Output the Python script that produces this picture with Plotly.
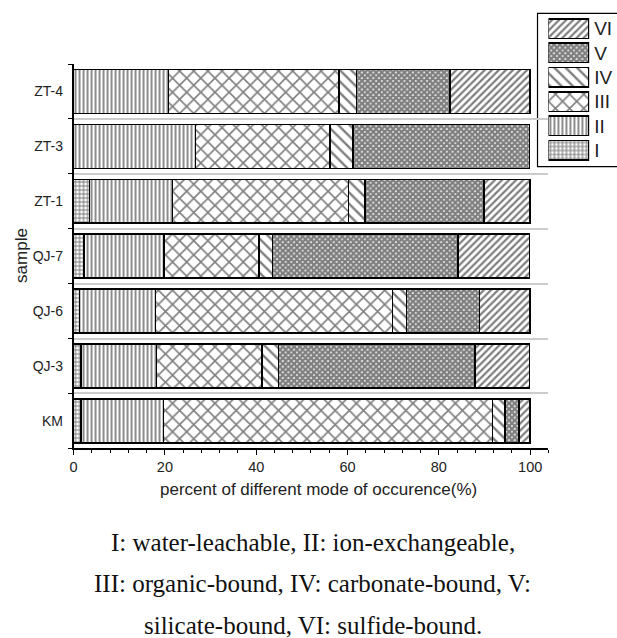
import plotly.graph_objects as go

# Mode-of-occurrence fractions (%) per sample, stacked from I to VI
samples = ["KM", "QJ-3", "QJ-6", "QJ-7", "ZT-1", "ZT-3", "ZT-4"]
mode_I = [1.6, 1.6, 1.3, 2.3, 3.5, 0.0, 0.0]
mode_II = [18.1, 16.6, 16.6, 17.5, 18.2, 26.7, 20.8]
mode_III = [72.1, 23.1, 52.0, 20.8, 38.5, 29.5, 37.3]
mode_IV = [2.7, 3.6, 3.0, 3.0, 3.6, 5.0, 3.9]
mode_V = [3.0, 43.0, 16.0, 40.6, 26.1, 38.6, 20.4]
mode_VI = [2.5, 11.9, 11.1, 15.6, 10.1, 0.0, 17.6]

mode_names = ["I", "II", "III", "IV", "V", "VI"]
mode_values = [mode_I, mode_II, mode_III, mode_IV, mode_V, mode_VI]
legend_swatch = [1, 1, 1, 1, 1, 1]

x_ticks = [0, 20, 40, 60, 80, 100]
caption_lines = [
    "I: water-leachable, II: ion-exchangeable,",
    "III: organic-bound, IV: carbonate-bound, V:",
    "silicate-bound, VI: sulfide-bound.",
]

# hatch style for each mode
patterns = {
    "I": dict(shape="+", size=4, solidity=0.5),
    "II": dict(shape="|", size=4, solidity=0.45),
    "III": dict(shape="x", size=10, solidity=0.3),
    "IV": dict(shape="\\", size=8, solidity=0.3),
    "V": dict(shape="x", size=4, solidity=0.85),
    "VI": dict(shape="/", size=5, solidity=0.45),
}

W, H = 617, 638
SANS = "Liberation Sans, Arial, sans-serif"
SERIF = "Liberation Serif, Times New Roman, serif"


def px_x(p):
    return p / W


def px_y(p):
    return 1 - p / H


fig = go.Figure()

for name, vals in zip(mode_names, mode_values):
    pat = patterns[name]
    fig.add_trace(go.Bar(
        x=vals, y=samples, orientation="h", name=name, width=0.8,
        marker=dict(
            color="white",
            line=dict(color="black", width=1.5),
            pattern=dict(fgcolor="black", bgcolor="white", fillmode="overlay", **pat),
        ),
        showlegend=False, xaxis="x", yaxis="y",
    ))

# legend drawn as a small inset of patterned swatches
for name, val in zip(mode_names, legend_swatch):
    pat = patterns[name]
    fig.add_trace(go.Bar(
        x=[val], y=[name], orientation="h", width=0.8,
        marker=dict(
            color="white",
            line=dict(color="black", width=1.5),
            pattern=dict(fgcolor="black", bgcolor="white", fillmode="overlay", **pat),
        ),
        showlegend=False, xaxis="x2", yaxis="y2", hoverinfo="skip",
    ))

fig.update_layout(
    width=W, height=H,
    margin=dict(l=0, r=0, t=0, b=0),
    paper_bgcolor="white", plot_bgcolor="white",
    barmode="stack", bargap=0.2,
    font=dict(family=SANS, color="#222", size=14),
    xaxis=dict(
        domain=[px_x(70), px_x(548)], anchor="y",
        range=[0, 104], tickvals=x_ticks, ticks="outside", ticklen=5,
        tickwidth=1.2, tickcolor="black",
        minor=dict(dtick=4, tick0=0, ticks="outside", ticklen=3, tickwidth=1.2,
                   tickcolor="black", showgrid=False),
        showline=True, linecolor="black", linewidth=1.5,
        showgrid=False, zeroline=False,
        tickfont=dict(size=14.5, color="#222"),
    ),
    yaxis=dict(
        domain=[px_y(448.3), px_y(64)], anchor="x",
        type="category", categoryorder="array", categoryarray=samples,
        range=[-0.5, len(samples) - 0.5],
        tickson="boundaries", ticks="outside", ticklen=4, tickwidth=1.2,
        tickcolor="black", ticklabelstandoff=6,
        showline=True, linecolor="black", linewidth=1.5,
        showgrid=True, gridcolor="#cccccc", gridwidth=2,
        zeroline=False, tickfont=dict(size=14, color="#222"),
    ),
    xaxis2=dict(
        domain=[px_x(548), px_x(589)], anchor="y2", range=[0, 1],
        visible=False, fixedrange=True,
    ),
    yaxis2=dict(
        domain=[px_y(162.3), px_y(16.5)], anchor="x2",
        type="category", categoryorder="array", categoryarray=mode_names,
        range=[-0.5, len(mode_names) - 0.5],
        side="right", showline=False, showgrid=False, zeroline=False,
        ticks="", ticklabelstandoff=4, tickfont=dict(size=19, color="#222"),
    ),
    shapes=[
        dict(type="rect", xref="paper", yref="paper",
             x0=px_x(537), x1=px_x(640), y0=px_y(166.7), y1=px_y(13.3),
             line=dict(color="black", width=1.2), fillcolor="rgba(0,0,0,0)",
             layer="below"),
    ],
)

annotations = [
    dict(text="percent of different mode of occurence(%)", x=px_x(317), y=px_y(489.5),
         xref="paper", yref="paper", showarrow=False, xanchor="center", yanchor="middle",
         font=dict(family=SANS, size=17, color="#222")),
    dict(text="sample", x=px_x(18), y=px_y(255), textangle=-90,
         xref="paper", yref="paper", showarrow=False, xanchor="center", yanchor="middle",
         font=dict(family=SANS, size=17, color="#222")),
]
for line, yc in zip(caption_lines, [542.7, 583.3, 625]):
    annotations.append(dict(
        text=line, x=px_x(311), y=px_y(yc), xref="paper", yref="paper",
        showarrow=False, xanchor="center", yanchor="middle",
        font=dict(family=SERIF, size=25, color="#111"),
    ))
fig.update_layout(annotations=annotations)

fig.write_html("out.html")
